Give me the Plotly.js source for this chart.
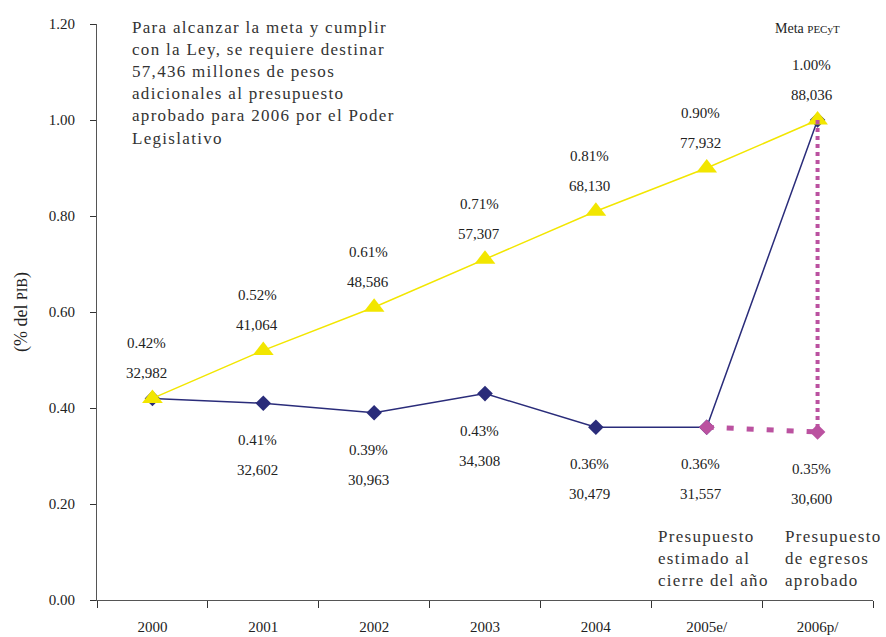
<!DOCTYPE html>
<html><head><meta charset="utf-8">
<script src="https://cdn.plot.ly/plotly-3.0.1.min.js"></script>
<style>html,body{margin:0;padding:0;background:#fff}</style>
</head><body>
<div id="chart" style="width:886px;height:637px"></div>
<script>
// Data
const years = ["2000","2001","2002","2003","2004","2005e/","2006p/"];
const gastoPIB = [0.42, 0.41, 0.39, 0.43, 0.36, 0.36, 1.00];      // navy line
const metaPIB = [0.42, 0.52, 0.61, 0.71, 0.81, 0.90, 1.00];       // yellow line
const metaPctLabels = ["0.42%","0.52%","0.61%","0.71%","0.81%","0.90%","1.00%"];
const metaMillones = ["32,982","41,064","48,586","57,307","68,130","77,932","88,036"];
const presYears = ["2005e/","2006p/"];
const presPIB = [0.36, 0.35];                                       // pink dashed
const lowYears = ["2001","2002","2003","2004","2005e/","2006p/"];
const lowPIB = [0.41, 0.39, 0.43, 0.36, 0.36, 0.35];
const lowPctLabels = ["0.41%","0.39%","0.43%","0.36%","0.36%","0.35%"];
const lowMillones = ["32,602","30,963","34,308","30,479","31,557","30,600"];
const yTicks = [0, 0.2, 0.4, 0.6, 0.8, 1.0, 1.2];

const navy = "#2a2c7a", yellow = "#f2e600", pink = "#bb52a0";
const SERIF = "Liberation Serif";
const numFont = {family: SERIF, size: 15, color: "#222"};
const txtFont = {family: SERIF, size: 17, color: "#333"};
const ls = s => '<span style="letter-spacing:1.3px">' + s + '</span>';
const idx = c => years.indexOf(c);

const traces = [
  {x: years, y: gastoPIB, type: "scatter", mode: "lines+markers",
   line: {color: navy, width: 1.5},
   marker: {symbol: "diamond", size: 12, color: navy}, hoverinfo: "skip"},
  {x: years, y: metaPIB, type: "scatter", mode: "lines+markers",
   line: {color: yellow, width: 1.5},
   marker: {symbol: "triangle-up", size: 18, color: yellow}, hoverinfo: "skip"},
  {x: presYears, y: presPIB, type: "scatter", mode: "lines+markers",
   line: {color: pink, width: 5, dash: "7px,13px"},
   marker: {symbol: "diamond", size: 12, color: pink}, hoverinfo: "skip"},
  {x: [presYears[1], presYears[1]], y: [metaPIB[6], presPIB[1]], type: "scatter", mode: "lines",
   line: {color: pink, width: 4, dash: "4px,4px"}, hoverinfo: "skip"}
];

const ann = [];
years.forEach((c, i) => {
  ann.push({x: i, y: metaPIB[i], xref: "x", yref: "y", text: metaPctLabels[i], showarrow: false,
            font: numFont, xshift: -6, yshift: 55});
  ann.push({x: i, y: metaPIB[i], xref: "x", yref: "y", text: metaMillones[i], showarrow: false,
            font: numFont, xshift: -6, yshift: 25});
});
lowYears.forEach((c, i) => {
  ann.push({x: idx(c), y: lowPIB[i], xref: "x", yref: "y", text: lowPctLabels[i], showarrow: false,
            font: numFont, xshift: -6, yshift: -37});
  ann.push({x: idx(c), y: lowPIB[i], xref: "x", yref: "y", text: lowMillones[i], showarrow: false,
            font: numFont, xshift: -6, yshift: -67});
});
ann.push({x: idx("2006p/"), y: 1.2, xref: "x", yref: "y", xshift: -10, yshift: -4, showarrow: false,
          text: 'Meta <span style="font-size:11px">PECyT</span>',
          font: {family: SERIF, size: 14, color: "#222"}});
ann.push({xref: "paper", yref: "paper", x: 0.042, y: 1.014, xanchor: "left", yanchor: "top",
          align: "left", showarrow: false, font: txtFont,
          text: ls("Para alcanzar la meta y cumplir<br>con la Ley, se requiere destinar<br>57,436 millones de pesos<br>adicionales al presupuesto<br>aprobado para 2006 por el Poder<br>Legislativo")});
ann.push({xref: "paper", yref: "paper", x: 0.720, y: 0.130, xanchor: "left", yanchor: "top",
          align: "left", showarrow: false, font: txtFont,
          text: ls("Presupuesto<br>estimado al<br>cierre del año")});
ann.push({xref: "paper", yref: "paper", x: 0.884, y: 0.130, xanchor: "left", yanchor: "top",
          align: "left", showarrow: false, font: txtFont,
          text: ls("Presupuesto<br>de egresos<br>aprobado")});

const layout = {
  width: 886, height: 637,
  margin: {l: 97, r: 13, t: 24, b: 37},
  paper_bgcolor: "#fff", plot_bgcolor: "#fff",
  showlegend: false,
  xaxis: {type: "category", categoryarray: years, range: [-0.5, 6.5],
          showgrid: false, zeroline: false, showline: true, linecolor: "#555", linewidth: 1,
          ticks: "outside", tickson: "boundaries", ticklen: 7, tickcolor: "#333",
          ticklabelstandoff: 13, tickfont: numFont, fixedrange: true},
  yaxis: {range: [0, 1.2], tickvals: yTicks, tickformat: ".2f",
          showgrid: false, zeroline: false, showline: true, linecolor: "#555", linewidth: 1,
          ticks: "outside", ticklen: 6, tickcolor: "#333", ticklabelstandoff: 12,
          tickfont: numFont, fixedrange: true,
          title: {text: '(% del <span style="font-size:14px">PIB</span>)',
                  font: {family: SERIF, size: 18, color: "#222"}, standoff: 16}},
  annotations: ann
};
Plotly.newPlot("chart", traces, layout, {staticPlot: true});
</script>
</body></html>
